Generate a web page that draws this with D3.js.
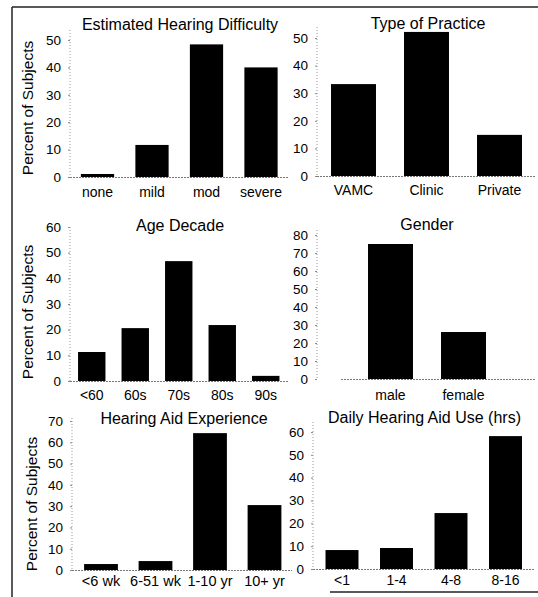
<!DOCTYPE html>
<html>
<head>
<meta charset="utf-8">
<script src="https://cdn.jsdelivr.net/npm/d3@7"></script>
<style>
  body { margin: 0; background: #fff; }
  text { font-family: "Liberation Sans", Arial, sans-serif; fill: #000; }
</style>
</head>
<body>
<div id="chart"></div>
<script>
// Chart data

var difficultyCats = ["none", "mild", "mod", "severe"];
var difficultyVals = [1.1, 11.7, 48.4, 40.0];

var practiceCats = ["VAMC", "Clinic", "Private"];
var practiceVals = [33.3, 52.2, 14.9];

var ageCats = ["<60", "60s", "70s", "80s", "90s"];
var ageVals = [11.3, 20.6, 46.7, 21.8, 2.0];

var genderCats = ["male", "female"];
var genderVals = [75, 26.1];

var experienceCats = ["<6 wk", "6-51 wk", "1-10 yr", "10+ yr"];
var experienceVals = [2.8, 4.2, 64.3, 30.5];

var useCats = ["<1", "1-4", "4-8", "8-16"];
var useVals = [8.3, 9.2, 24.5, 58.2];

var ticks50 = [0, 10, 20, 30, 40, 50];
var ticks60 = [0, 10, 20, 30, 40, 50, 60];
var ticks70 = [0, 10, 20, 30, 40, 50, 60, 70];
var ticks80 = [0, 10, 20, 30, 40, 50, 60, 70, 80];

var yTitle = "Percent of Subjects";

var width = 538;
var height = 597;

var svg = d3.select("#chart")
    .append("svg")
    .attr("width", width)
    .attr("height", height);

// Outer frame (scanned figure: top, left and a piece of the bottom)
svg.append("line").attr("x1", 12).attr("x2", 538).attr("y1", 7).attr("y2", 7)
    .attr("stroke", "#222").attr("stroke-width", 1.5);
svg.append("line").attr("x1", 12).attr("x2", 12).attr("y1", 7).attr("y2", 597)
    .attr("stroke", "#222").attr("stroke-width", 1.5);
svg.append("line").attr("x1", 330).attr("x2", 538).attr("y1", 592).attr("y2", 592)
    .attr("stroke", "#222").attr("stroke-width", 1.5);

// Panel layouts
var panels = [
    { title: "Estimated Hearing Difficulty", cats: difficultyCats, vals: difficultyVals, ticks: ticks50,
      axisX: 70, y0: 177, yMaxPx: 40, yMax: 50, axisTop: 30, band: [70.25, 288.25], pad: 0.39,
      base: [70, 288], titleX: 180, titleY: 30, labelY: 197, labelSize: 14, yLabel: { x: 28, y: 108 } },
    { title: "Type of Practice", cats: practiceCats, vals: practiceVals, ticks: ticks50,
      axisX: 317, y0: 176, yMaxPx: 38, yMax: 50, axisTop: 27, band: [317, 536], pad: 0.384,
      base: [317, 536], titleX: 428, titleY: 29, labelY: 195, labelSize: 14 },
    { title: "Age Decade", cats: ageCats, vals: ageVals, ticks: ticks60,
      axisX: 70, y0: 381, yMaxPx: 227, yMax: 60, axisTop: 227, band: [70, 287.5], pad: 0.37,
      base: [70, 288], titleX: 180, titleY: 231, labelY: 400, labelSize: 14, yLabel: { x: 28, y: 312 } },
    { title: "Gender", cats: genderCats, vals: genderVals, ticks: ticks80,
      axisX: 317, y0: 379, yMaxPx: 235, yMax: 80, axisTop: 230, band: [354, 500], pad: 0.384,
      base: [341, 535], titleX: 427, titleY: 230, labelY: 400, labelSize: 14 },
    { title: "Hearing Aid Experience", cats: experienceCats, vals: experienceVals, ticks: ticks70,
      axisX: 72, y0: 570, yMaxPx: 421, yMax: 70, axisTop: 418, band: [73.75, 291.75], pad: 0.38,
      base: [72, 292], titleX: 184, titleY: 424, labelY: 586, labelSize: 14.5, yLabel: { x: 32, y: 504 } },
    { title: "Daily Hearing Aid Use (hrs)", cats: useCats, vals: useVals, ticks: ticks60,
      axisX: 313, y0: 569, yMaxPx: 432, yMax: 60, axisTop: 422, band: [314.75, 532.75], pad: 0.395,
      base: [313, 535], titleX: 424.5, titleY: 423, labelY: 585, labelSize: 14 }
];

panels.forEach(function (p) {
    var g = svg.append("g");

    var y = d3.scaleLinear()
        .domain([0, p.yMax])
        .range([p.y0, p.yMaxPx]);

    var x = d3.scaleBand()
        .domain(p.cats)
        .range(p.band)
        .paddingInner(p.pad)
        .paddingOuter(p.pad / 2);

    // y axis: faint dotted line with small ticks
    var yAxis = d3.axisLeft(y)
        .tickValues(p.ticks)
        .tickSize(2)
        .tickPadding(7)
        .tickFormat(d3.format("d"));

    var ax = g.append("g")
        .attr("transform", "translate(" + p.axisX + ",0)")
        .call(yAxis);
    ax.select(".domain").remove();
    ax.selectAll(".tick line").attr("stroke", "#888");
    ax.selectAll(".tick text")
        .style("font-size", "13.5px")
        .style("font-family", "'Liberation Sans', Arial, sans-serif")
        .attr("fill", "#000");

    g.append("line")
        .attr("x1", p.axisX).attr("x2", p.axisX)
        .attr("y1", p.axisTop).attr("y2", p.y0)
        .attr("stroke", "#999")
        .attr("stroke-width", 1)
        .attr("stroke-dasharray", "1,2");

    // baseline
    g.append("line")
        .attr("x1", p.base[0]).attr("x2", p.base[1])
        .attr("y1", p.y0 + 0.5).attr("y2", p.y0 + 0.5)
        .attr("stroke", "#777")
        .attr("stroke-width", 1)
        .attr("stroke-dasharray", "2,1");

    // bars
    g.selectAll(".bar")
        .data(p.vals)
        .enter().append("rect")
        .attr("class", "bar")
        .attr("x", function (d, i) { return x(p.cats[i]); })
        .attr("width", x.bandwidth())
        .attr("y", function (d) { return y(d); })
        .attr("height", function (d) { return p.y0 - y(d); })
        .attr("fill", "#000");

    // category labels
    g.selectAll(".cat")
        .data(p.cats)
        .enter().append("text")
        .attr("class", "cat")
        .attr("x", function (d) { return x(d) + x.bandwidth() / 2; })
        .attr("y", p.labelY)
        .attr("text-anchor", "middle")
        .style("font-size", p.labelSize + "px")
        .text(function (d) { return d; });

    // panel title
    g.append("text")
        .attr("x", p.titleX)
        .attr("y", p.titleY)
        .attr("text-anchor", "middle")
        .style("font-size", "16px")
        .text(p.title);

    // y axis title on the left column only
    if (p.yLabel) {
        g.append("text")
            .attr("transform", "translate(" + p.yLabel.x + "," + p.yLabel.y + ") rotate(-90)")
            .attr("text-anchor", "middle")
            .attr("dy", "0.35em")
            .style("font-size", "15.5px")
            .text(yTitle);
    }
});
</script>
</body>
</html>
